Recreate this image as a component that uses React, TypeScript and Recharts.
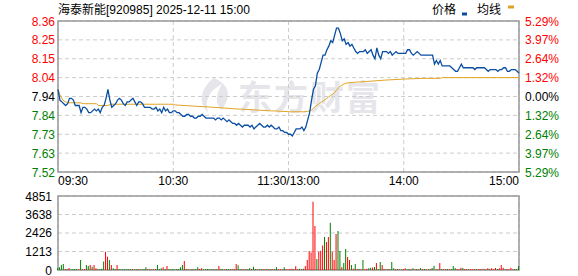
import {
  Bar,
  BarChart,
  CartesianGrid,
  Cell,
  Line,
  LineChart,
  ReferenceArea,
  XAxis,
  YAxis,
} from "recharts";

const PRE_CLOSE = 7.94;
const RED = "#ff0000";
const GREEN = "#008000";
const PRICE_COLOR = "#0a4ea2";
const AVG_COLOR = "#e0a424";
const GRID = "#cccccc";
const FRAME = "#999999";
const FONT = "'Liberation Sans', Arial, 'Noto Sans CJK SC', sans-serif";

// one value per minute, 09:30 .. 11:30 then 13:00 .. 15:00 (241 points)
const price = [
  7.98, 7.92, 7.91, 7.9, 7.89, 7.9, 7.93, 7.93, 7.92, 7.89,
  7.89, 7.89, 7.85, 7.88, 7.88, 7.87, 7.85, 7.85, 7.86, 7.87,
  7.86, 7.87, 7.85, 7.88, 7.89, 7.93, 7.98, 7.92, 7.88, 7.89,
  7.9, 7.92, 7.93, 7.92, 7.9, 7.89, 7.91, 7.91, 7.92, 7.93,
  7.91, 7.89, 7.91, 7.91, 7.9, 7.88, 7.88, 7.88, 7.88, 7.87,
  7.87, 7.88, 7.86, 7.87, 7.85, 7.88, 7.86, 7.87, 7.85, 7.85,
  7.86, 7.86, 7.85, 7.85, 7.84, 7.83, 7.83, 7.84, 7.84, 7.83,
  7.83, 7.82, 7.82, 7.83, 7.83, 7.84, 7.83, 7.82, 7.82, 7.82,
  7.82, 7.82, 7.81, 7.82, 7.82, 7.81, 7.82, 7.81, 7.8, 7.81,
  7.8, 7.79, 7.79, 7.78, 7.79, 7.78, 7.77, 7.78, 7.78, 7.78,
  7.77, 7.78, 7.76, 7.77, 7.78, 7.79, 7.78, 7.77, 7.77, 7.78,
  7.77, 7.78, 7.77, 7.76, 7.76, 7.77, 7.75, 7.75, 7.74, 7.74,
  7.73, 7.73, 7.72, 7.74, 7.76, 7.76, 7.76, 7.77, 7.75, 7.77,
  7.81, 7.85, 7.92, 7.98, 8.0, 8.07, 8.09, 8.13, 8.17, 8.17,
  8.2, 8.22, 8.25, 8.24, 8.28, 8.32, 8.32, 8.29, 8.25, 8.26,
  8.23, 8.24, 8.22, 8.23, 8.21, 8.19, 8.18, 8.19, 8.19, 8.19,
  8.2, 8.18, 8.19, 8.2, 8.17, 8.15, 8.21, 8.17, 8.15, 8.19,
  8.19, 8.19, 8.18, 8.19, 8.17, 8.18, 8.19, 8.18, 8.18, 8.18,
  8.18, 8.18, 8.2, 8.2, 8.18, 8.17, 8.18, 8.19, 8.18, 8.17,
  8.17, 8.17, 8.17, 8.17, 8.17, 8.17, 8.12, 8.14, 8.12, 8.14,
  8.11, 8.11, 8.11, 8.11, 8.11, 8.1, 8.09, 8.08, 8.08, 8.1,
  8.12, 8.1, 8.1, 8.1, 8.1, 8.1, 8.1, 8.09, 8.1, 8.1,
  8.1, 8.1, 8.1, 8.09, 8.08, 8.09, 8.09, 8.09, 8.09, 8.08,
  8.09, 8.09, 8.1, 8.1, 8.08, 8.08, 8.09, 8.09, 8.09, 8.08,
  8.07,
];

// average line, read at the minutes where it changes
const avgMinute = [
  0, 1, 2, 3, 4, 5, 12, 13, 20, 21, 26, 27, 28, 60, 61, 76, 77, 94, 95, 111,
  112, 121, 128, 130, 131, 132, 133, 134, 135, 136, 137, 138, 139, 140, 141,
  142, 143, 144, 145, 146, 147, 148, 149, 150, 151, 155, 160, 170, 180, 190,
  199, 200, 240,
];
const avgValue = [
  7.98, 7.95, 7.93, 7.915, 7.91, 7.905, 7.905, 7.9, 7.9, 7.89, 7.89, 7.895,
  7.897, 7.897, 7.893, 7.883, 7.883, 7.87, 7.87, 7.86, 7.86, 7.855, 7.855,
  7.857, 7.86, 7.865, 7.875, 7.885, 7.893, 7.9, 7.908, 7.915, 7.922, 7.93,
  7.938, 7.946, 7.953, 7.962, 7.975, 7.988, 7.998, 8.004, 8.01, 8.014, 8.016,
  8.02, 8.023, 8.031, 8.037, 8.041, 8.041, 8.045, 8.045,
];

const volume = [
  120, 175, 330, 390, 65, 60, 130, 50, 60, 70,
  60, 55, 650, 50, 60, 330, 260, 330, 220, 330,
  110, 60, 70, 80, 550, 1200, 875, 650, 330, 110,
  60, 330, 60, 50, 55, 50, 60, 50, 55, 60,
  50, 55, 60, 50, 55, 60, 175, 60, 55, 50,
  55, 60, 330, 60, 110, 175, 70, 260, 60, 55,
  60, 55, 60, 60, 175, 330, 590, 60, 55, 50,
  60, 55, 60, 175, 60, 110, 55, 50, 60, 55,
  60, 55, 50, 60, 260, 60, 55, 50, 60, 55,
  60, 55, 60, 390, 305, 60, 55, 50, 60, 55,
  110, 60, 220, 60, 55, 50, 60, 55, 50, 60,
  55, 60, 50, 60, 175, 55, 60, 50, 175, 60,
  55, 60, 80, 60, 250, 55, 80, 60, 90, 260,
  650, 1250, 1140, 4480, 2890, 720, 1200, 1270, 1600, 2160,
  1840, 2160, 3100, 1200, 650, 2360, 2560, 1250, 200, 460,
  1380, 850, 650, 330, 80, 390, 70, 60, 55, 650,
  60, 80, 110, 150, 160, 200, 460, 60, 525, 330,
  60, 55, 60, 50, 525, 110, 55, 60, 50, 55,
  60, 110, 55, 60, 50, 110, 55, 60, 50, 130,
  55, 60, 50, 55, 60, 130, 280, 55, 50, 460,
  60, 55, 50, 60, 55, 60, 260, 130, 60, 55,
  150, 130, 60, 55, 50, 60, 55, 50, 60, 55,
  60, 55, 60, 55, 110, 60, 110, 55, 130, 60,
  110, 330, 150, 55, 60, 50, 150, 55, 60, 60,
  260,
];

// r = up minute (red bar), g = down minute (green bar)
const volDir = [
  "ggggrgrggg", "grgrrggrgr", "rggggrrgrg", "grgggggggr", "ggrggggrgr",
  "grgggrgrgg", "ggggggrgrg", "grggrrgggg", "ggrgrggrgg", "rgrrggrrgg",
  "grggrggrrg", "rgrggrrggr", "rrrgrrgrgr", "rrrrrgrrrg", "rrgrrrggrg",
  "grrgrgrgrg", "rrggrgrggr", "rgrgggrgrg", "rrggrgrgrg", "rgrgrggrgr",
  "grrgrgggrr", "rgrrgrrrgr", "rrgrrgrrrg", "rrrgrrrrgg", "g",
].join("");

const priceTicks = [7.52, 7.625, 7.73, 7.835, 7.94, 8.045, 8.15, 8.255, 8.36];
const priceLabels = ["7.52", "7.63", "7.73", "7.84", "7.94", "8.04", "8.15", "8.25", "8.36"];
const pctLabels = ["5.29%", "3.97%", "2.64%", "1.32%", "0.00%", "1.32%", "2.64%", "3.97%", "5.29%"];
const volTicks = [0, 1213, 2426, 3638, 4851];
const timeTicks = [0, 60, 120, 180, 240];
const timeLabels = ["09:30", "10:30", "11:30/13:00", "14:00", "15:00"];

const priceData = price.map((p, i) => ({ m: i, price: p }));
const avgData = avgMinute.map((m, i) => ({ m, avg: avgValue[i] }));
const volData = volume.map((v, i) => ({ m: i, vol: v, up: volDir[i] === "r" }));

const tone = (v: number) =>
  v > PRE_CLOSE + 1e-6 ? RED : v < PRE_CLOSE - 1e-6 ? GREEN : "#000";

const LeftTick = ({ x, y, payload }: any) => (
  <text x={x} y={y} dy={4.5} textAnchor="end" fontSize={12} fill={tone(payload.value)} fontFamily={FONT}>
    {priceLabels[payload.index]}
  </text>
);

const RightTick = ({ x, y, payload }: any) => (
  <text x={x} y={y} dy={4.5} textAnchor="start" fontSize={12} fill={tone(payload.value)} fontFamily={FONT}>
    {pctLabels[payload.index]}
  </text>
);

const TimeTick = ({ x, y, payload }: any) => {
  const i = payload.index;
  const anchor = i === 0 ? "start" : i === timeLabels.length - 1 ? "end" : "middle";
  return (
    <text x={x} y={y} dy={13} textAnchor={anchor} fontSize={12} fill="#000" fontFamily={FONT}>
      {timeLabels[i]}
    </text>
  );
};

const VolTick = ({ x, y, payload }: any) => (
  <text x={x} y={y} dy={4.5} textAnchor="end" fontSize={12} fill="#000" fontFamily={FONT}>
    {payload.value}
  </text>
);

export default function App() {
  return (
    <div
      style={{
        position: "absolute",
        left: 0,
        top: 0,
        width: 578,
        height: 276,
        background: "#fff",
        fontFamily: FONT,
      }}
    >
      {/* title, legend and watermark sit under the charts */}
      <svg width={578} height={276} style={{ position: "absolute", left: 0, top: 0 }}>
        <path
          d="M214 78 C200 88 198 104 208 112 C204 100 210 90 222 84 C216 94 214 104 222 110 C230 98 232 86 214 78 Z"
          fill="#e6e6ea"
        />
        <text x={238} y={110} fontSize={34} fontWeight={700} fill="#e6e6ea" letterSpacing={2} fontFamily="'Noto Sans CJK SC', sans-serif">
          东方财富
        </text>
        <text x={58} y={13.5} fontSize={12} fill="#000" fontFamily={FONT}>
          海泰新能[920985] 2025-12-11 15:00
        </text>
        <text x={432} y={14} fontSize={12} fill="#000" fontFamily="'Noto Sans CJK SC', sans-serif">
          价格
        </text>
        <rect x={462} y={12.5} width={5} height={3} fill={PRICE_COLOR} />
        <text x={477} y={14} fontSize={12} fill="#000" fontFamily="'Noto Sans CJK SC', sans-serif">
          均线
        </text>
        <rect x={508} y={5.5} width={6} height={3} fill={AVG_COLOR} />
      </svg>

      <div style={{ position: "absolute", left: 0, top: 0 }}>
        <LineChart width={578} height={190} data={priceData} margin={{ top: 21, right: 0, bottom: 0, left: 0 }}>
          <CartesianGrid yAxisId="p" stroke={GRID} strokeDasharray="4 3" />
          <XAxis
            dataKey="m"
            type="number"
            domain={[0, 240]}
            ticks={timeTicks}
            height={18}
            tickSize={0}
            tickMargin={0}
            axisLine={false}
            tickLine={false}
            tick={<TimeTick />}
            interval={0}
          />
          <YAxis
            yAxisId="p"
            domain={[7.52, 8.36]}
            ticks={priceTicks}
            width={58}
            tickSize={0}
            tickMargin={3}
            axisLine={false}
            tickLine={false}
            tick={<LeftTick />}
            interval={0}
            allowDataOverflow
          />
          <YAxis
            yAxisId="pct"
            orientation="right"
            domain={[7.52, 8.36]}
            ticks={priceTicks}
            width={59}
            tickSize={0}
            tickMargin={6}
            axisLine={false}
            tickLine={false}
            tick={<RightTick />}
            interval={0}
            allowDataOverflow
          />
          <Line
            yAxisId="p"
            data={avgData}
            dataKey="avg"
            type="linear"
            stroke={AVG_COLOR}
            strokeWidth={1}
            dot={false}
            activeDot={false}
            isAnimationActive={false}
          />
          <Line
            yAxisId="p"
            dataKey="price"
            type="linear"
            stroke={PRICE_COLOR}
            strokeWidth={1.3}
            dot={false}
            activeDot={false}
            isAnimationActive={false}
          />
          <ReferenceArea
            yAxisId="p"
            x1={0}
            x2={240}
            y1={7.52}
            y2={8.36}
            fill="none"
            stroke={FRAME}
            strokeWidth={1.5}
            ifOverflow="visible"
          />
        </LineChart>
      </div>

      <div style={{ position: "absolute", left: 0, top: 186 }}>
        <BarChart width={578} height={90} data={volData} margin={{ top: 10, right: 59, bottom: 6, left: 0 }}>
          <CartesianGrid stroke={GRID} strokeDasharray="4 3" />
          <XAxis
            dataKey="m"
            type="number"
            domain={[0, 240]}
            ticks={timeTicks}
            height={0}
            tick={false}
            axisLine={false}
            tickLine={false}
            interval={0}
          />
          <YAxis
            domain={[0, 4851]}
            ticks={volTicks}
            width={58}
            tickSize={0}
            tickMargin={6}
            axisLine={false}
            tickLine={false}
            tick={<VolTick />}
            interval={0}
            allowDataOverflow
          />
          <Bar dataKey="vol" barSize={1} isAnimationActive={false}>
            {volData.map((d, i) => (
              <Cell key={i} fill={d.up ? RED : GREEN} />
            ))}
          </Bar>
          <ReferenceArea
            x1={0}
            x2={240}
            y1={0}
            y2={4851}
            fill="none"
            stroke={FRAME}
            strokeWidth={1.5}
            ifOverflow="visible"
          />
        </BarChart>
      </div>
    </div>
  );
}
